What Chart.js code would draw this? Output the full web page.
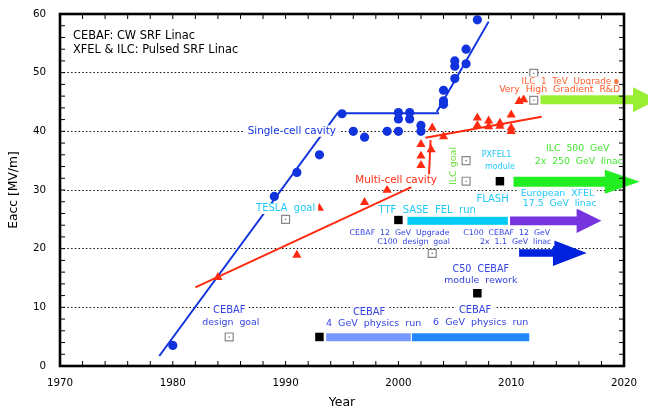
<!DOCTYPE html>
<html>
<head>
<meta charset="utf-8">
<script src="https://cdn.jsdelivr.net/npm/chart.js@4/dist/chart.umd.min.js"></script>
<style>
  html, body { margin: 0; padding: 0; background: #fff; }
</style>
</head>
<body>
<canvas id="grafico" width="648" height="414"></canvas>
<script>
// axis ticks
const yearTicks = [1970, 1980, 1990, 2000, 2010, 2020];
const eaccTicks = [0, 10, 20, 30, 40, 50, 60];

// single-cell cavities (blue dots)
const singleYear = [1980, 1989, 1991, 1993, 1995, 1996, 1997, 1999, 2000, 2000, 2000, 2001, 2001, 2002, 2002, 2004, 2004, 2004, 2005, 2005, 2005, 2006, 2006, 2007];
const singleEacc = [3.5, 28.9, 33, 36, 43, 40, 39, 40, 40, 42.1, 43.2, 42.1, 43.2, 40, 41, 44.6, 45.2, 47, 49, 51.1, 52, 51.5, 54, 59];

// multi-cell cavities (red triangles)
const multiYear = [1984, 1991, 1993, 1997, 1999, 2002, 2002, 2002, 2002.9, 2003, 2004, 2007, 2007, 2008, 2008, 2009, 2009, 2010, 2010, 2010, 2010.7, 2011.1];
const multiEacc = [15.1, 18.9, 26.9, 27.9, 30, 37.8, 35.8, 34.2, 36.9, 40.6, 39.1, 42.3, 41, 41.8, 40.8, 41.4, 40.9, 42.8, 40.6, 40, 45.1, 45.4];

// goals (open squares) and milestones (black squares)
const goalYear = [1985, 1990, 2003, 2006, 2006, 2012, 2012];
const goalEacc = [4.95, 25, 19.2, 35, 31.5, 49.9, 45.3];
const milestoneYear = [1993, 2000, 2007, 2009];
const milestoneEacc = [4.95, 24.9, 12.4, 31.5];

// trend lines
const singleFitYear = [1978.8, 1994.6, 2003.6];
const singleFitEacc = [1.7, 43.1, 43.1];
const singleFit2Year = [2003.4, 2008.0];
const singleFit2Eacc = [43.3, 58.7];
const multiFitYear = [1982.0, 2001.15];
const multiFitEacc = [13.4, 30.5];
const multiFit2Year = [2002.7, 2002.85];
const multiFit2Eacc = [32.0, 38.5];
const multiFit3Year = [2002.4, 2012.7];
const multiFit3Eacc = [38.9, 42.5];

// runs (bars) and future plans (arrows)
const barFrom = [1993.6, 2001.2, 2000.8];
const barTo = [2001.1, 2011.6, 2009.7];
const barLevel = [4.9, 4.9, 24.75];
const arrowFrom = [2009.9, 2010.7, 2010.2, 2012.6];
const arrowHead = [2015.8, 2013.7, 2018.3, 2020.8];
const arrowTip = [2018.0, 2016.7, 2021.4, 2023.0];
const arrowLevel = [24.75, 19.25, 31.4, 45.4];

// text notes: [text, year, Eacc]
const notes = [
    ["Single-cell cavity", 1990.55, 40.05],
    ["Multi-cell cavity", 1999.8, 31.7],
    ["ILC goal", 2004.85, 34.1],
    ["PXFEL1", 2008.7, 35.95],
    ["module", 2009.0, 33.9],
    ["ILC  500  GeV", 2015.9, 37.0],
    ["2x  250  GeV  linac", 2016.0, 34.85],
    ["ILC  1  TeV  Upgrade", 2014.9, 48.5],
    ["Very  High  Gradient  R&D", 2014.3, 47.05],
    ["European  XFEL", 2014.1, 29.45],
    ["17.5  GeV  linac", 2014.3, 27.6],
    ["FLASH", 2008.35, 28.4],
    ["TTF  SASE  FEL  run", 2002.55, 26.6],
    ["CEBAF  12  GeV  Upgrade", 2000.1, 22.7],
    ["C100  design  goal", 2001.35, 21.15],
    ["C100  CEBAF  12  GeV", 2009.6, 22.7],
    ["2x  1.1  GeV  linac", 2010.4, 21.15],
    ["C50  CEBAF", 2007.3, 16.5],
    ["module  rework", 2007.3, 14.5],
    ["CEBAF", 1985.0, 9.5],
    ["design  goal", 1985.15, 7.35],
    ["TESLA  goal", 1990.0, 26.85],
    ["CEBAF", 1997.4, 9.1],
    ["4  GeV  physics  run", 1997.8, 7.25],
    ["CEBAF", 2006.8, 9.4],
    ["6  GeV  physics  run", 2007.3, 7.35]
];
const legendLines = ["CEBAF: CW SRF Linac", "XFEL & ILC: Pulsed SRF Linac"];

// styles
const FONT = '"DejaVu Sans", sans-serif';
const BLUE = "#1133dd";
const RED = "#ff2a10";
const CYAN = "#22c8f8";
const CEBAF_BLUE = "#3344e0";
const noteStyle = [
    [BLUE, 10.4], [RED, 10.4], ["#66dd33", 9.5], [CYAN, 8], [CYAN, 8],
    ["#44e830", 9.3], ["#44e830", 9.3], ["#ff6633", 8.9], ["#ff5a28", 9.3],
    [CYAN, 9.4], [CYAN, 9.3], [CYAN, 10], [CYAN, 10],
    [CEBAF_BLUE, 7.8], [CEBAF_BLUE, 7.8], [CEBAF_BLUE, 7.8], [CEBAF_BLUE, 7.8],
    [CEBAF_BLUE, 9.6], [CEBAF_BLUE, 9.4], [CEBAF_BLUE, 9.9], [CEBAF_BLUE, 9.4],
    [CYAN, 10], [CEBAF_BLUE, 9.9], [CEBAF_BLUE, 9.5], [CEBAF_BLUE, 9.9], [CEBAF_BLUE, 9.5]
];
const barStyle = [["#7799ff", 8], ["#2288ff", 8], ["#00ccf5", 8]];
const arrowStyle = [["#7733dd", 8.7, 12.3], ["#0022dd", 7.4, 13], ["#22ee22", 10, 12], ["#99ee33", 9, 12.5]];

function pts(xs, ys) {
    return xs.map((v, i) => ({ x: v, y: ys[i] }));
}

const overlay = {
    id: "overlay",
    afterDatasetsDraw(chart) {
        const { ctx, chartArea: a, scales: { x, y } } = chart;
        ctx.save();

        // barras
        barFrom.forEach((f, i) => {
            const yy = y.getPixelForValue(barLevel[i]);
            const x0 = x.getPixelForValue(f);
            const x1 = x.getPixelForValue(barTo[i]);
            ctx.fillStyle = barStyle[i][0];
            ctx.fillRect(x0, yy - barStyle[i][1] / 2, x1 - x0, barStyle[i][1]);
        });

        // setas
        arrowFrom.forEach((f, i) => {
            const [color, shaft, head] = arrowStyle[i];
            const yy = y.getPixelForValue(arrowLevel[i]);
            const x0 = x.getPixelForValue(f);
            const xh = x.getPixelForValue(arrowHead[i]);
            const xt = x.getPixelForValue(arrowTip[i]);
            ctx.fillStyle = color;
            ctx.beginPath();
            ctx.moveTo(x0, yy - shaft / 2);
            ctx.lineTo(xh, yy - shaft / 2);
            ctx.lineTo(xh, yy - head);
            ctx.lineTo(xt, yy);
            ctx.lineTo(xh, yy + head);
            ctx.lineTo(xh, yy + shaft / 2);
            ctx.lineTo(x0, yy + shaft / 2);
            ctx.closePath();
            ctx.fill();
        });

        // textos com fundo branco
        ctx.textBaseline = "middle";
        notes.forEach(([text, yr, val], i) => {
            const [color, size] = noteStyle[i];
            const px = x.getPixelForValue(yr);
            const py = y.getPixelForValue(val);
            ctx.font = size + "px " + FONT;
            const w = ctx.measureText(text).width;
            ctx.save();
            ctx.translate(px, py);
            if (text === "ILC goal") ctx.rotate(-Math.PI / 2);
            ctx.fillStyle = "#fff";
            ctx.fillRect(-w / 2 - 3, -size * 0.55, w + 6, size * 1.1);
            ctx.fillStyle = color;
            ctx.textAlign = "center";
            ctx.fillText(text, 0, 0);
            ctx.restore();
        });

        ctx.font = "11.4px " + FONT;
        ctx.fillStyle = "#000";
        ctx.textAlign = "left";
        legendLines.forEach((t, i) => ctx.fillText(t, a.left + 13, a.top + 22 + i * 14));

        // moldura e marcas
        ctx.strokeStyle = "#000";
        ctx.lineWidth = 1;
        ctx.beginPath();
        for (let v = 2; v < 60; v += 2) {
            const py = y.getPixelForValue(v);
            ctx.moveTo(a.left, py); ctx.lineTo(a.left + 5, py);
            ctx.moveTo(a.right, py); ctx.lineTo(a.right - 5, py);
        }
        for (let yr = 1972; yr < 2020; yr += 2) {
            const px = x.getPixelForValue(yr);
            ctx.moveTo(px, a.bottom); ctx.lineTo(px, a.bottom - 5);
            ctx.moveTo(px, a.top); ctx.lineTo(px, a.top + 5);
        }
        ctx.stroke();
        ctx.lineWidth = 2.6;
        ctx.strokeRect(a.left, a.top, a.right - a.left, a.bottom - a.top);
        ctx.restore();
    }
};

new Chart(document.getElementById("grafico"), {
    type: "scatter",
    data: {
        datasets: [
            { data: pts(milestoneYear, milestoneEacc), pointStyle: "rect", pointRadius: 6, backgroundColor: "#000", borderWidth: 0 },
            { data: pts(goalYear, goalEacc), pointStyle: "circle", pointRadius: 0.8, backgroundColor: "#777", borderWidth: 0 },
            { data: pts(goalYear, goalEacc), pointStyle: "rect", pointRadius: 5.6, backgroundColor: "#fff", borderColor: "#888", borderWidth: 1.2 },
            { data: pts(singleYear, singleEacc), pointStyle: "circle", pointRadius: 4.6, backgroundColor: BLUE, borderWidth: 0 },
            { data: pts(multiYear, multiEacc), pointStyle: "triangle", pointRadius: 5.3, backgroundColor: RED, borderWidth: 0 },
            { data: [{ x: 2019.3, y: 48.5 }], pointRadius: 2.5, backgroundColor: "#ff7744", borderWidth: 0 },
            { data: pts(singleFitYear, singleFitEacc), showLine: true, pointRadius: 0, borderColor: BLUE, borderWidth: 2 },
            { data: pts(singleFit2Year, singleFit2Eacc), showLine: true, pointRadius: 0, borderColor: BLUE, borderWidth: 2 },
            { data: pts(multiFitYear, multiFitEacc), showLine: true, pointRadius: 0, borderColor: RED, borderWidth: 2 },
            { data: pts(multiFit2Year, multiFit2Eacc), showLine: true, pointRadius: 0, borderColor: RED, borderWidth: 2 },
            { data: pts(multiFit3Year, multiFit3Eacc), showLine: true, pointRadius: 0, borderColor: RED, borderWidth: 2 }
        ]
    },
    options: {
        responsive: false,
        animation: false,
        devicePixelRatio: 1,
        layout: { padding: { top: 14, right: 24, left: 0, bottom: 0 } },
        plugins: { legend: { display: false }, tooltip: { enabled: false } },
        scales: {
            x: {
                type: "linear",
                min: 1970,
                max: 2020,
                afterFit: (s) => { s.height = 48; s.paddingLeft = 0; s.paddingRight = 0; },
                afterBuildTicks: (s) => { s.ticks = yearTicks.map((v) => ({ value: v })); },
                ticks: { color: "#000", padding: 11.5, font: { family: FONT, size: 10.3 }, callback: (v) => String(v) },
                grid: { display: false, drawTicks: false },
                border: { display: false },
                title: { display: true, text: "Year", color: "#000", font: { family: FONT, size: 12.5 }, padding: { bottom: 3.5 } }
            },
            y: {
                min: 0,
                max: 60,
                afterFit: (s) => { s.width = 60; s.paddingTop = 0; s.paddingBottom = 0; },
                afterBuildTicks: (s) => { s.ticks = eaccTicks.map((v) => ({ value: v })); },
                ticks: { color: "#000", padding: 14, font: { family: FONT, size: 10.3 }, callback: (v) => String(v) },
                grid: { color: "#111", lineWidth: 1, drawTicks: false },
                border: { display: false, dash: [1.5, 2.2] },
                title: { display: true, text: "Eacc [MV/m]", color: "#000", font: { family: FONT, size: 12.3 }, padding: { top: 6.5 } }
            }
        }
    },
    plugins: [overlay]
});
</script>
</body>
</html>
